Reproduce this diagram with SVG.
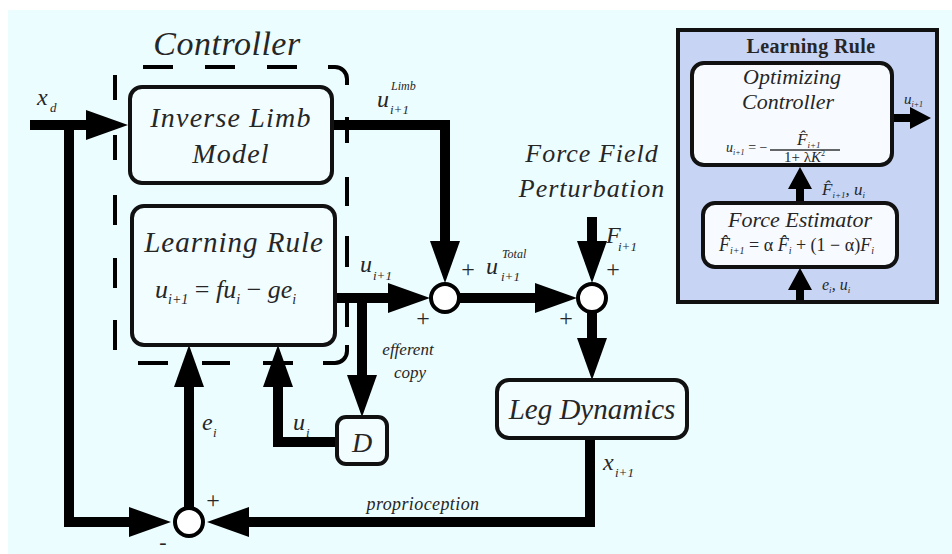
<svg xmlns="http://www.w3.org/2000/svg" width="952" height="554" viewBox="0 0 952 554">
<defs>
<style>
.t{font-family:"Liberation Serif",serif;font-style:italic;fill:#262626}
.n{font-family:"Liberation Serif",serif;fill:#262626}
.box{fill:#f2fdff;stroke:#111;stroke-width:4}
.wbox{fill:#f7fbff;stroke:#111;stroke-width:4}
.ln{fill:none;stroke:#000;stroke-width:10;stroke-linejoin:miter}
.sum{fill:#fff;stroke:#000;stroke-width:4}
.dash{fill:none;stroke:#000;stroke-width:4}
</style>
<marker id="ah" markerUnits="userSpaceOnUse" viewBox="0 0 42 30" markerWidth="42" markerHeight="30" refX="22" refY="15" orient="auto">
<path d="M0,0 L42,15 L0,30 Z" fill="#000"/>
</marker>
</defs>
<rect x="0" y="0" width="952" height="554" fill="#fff"/>
<rect x="8" y="10" width="944" height="544" fill="#ecfdff"/>

<g id="controller">
<text class="t" x="227" y="55" font-size="34" text-anchor="middle" letter-spacing="0.5">Controller</text>
<path class="dash" d="M143,67 H173 M205,67 H235 M267,67 H297 M328,67 H335 A12,12 0 0 1 347,79 V85 M347,117 V143 M347,177 V206 M347,236 V267 M347,294 V327 M347,345 V351 A12,12 0 0 1 335,363 H323 M293,363 H263 M230,363 H202 M168,363 H138 M115,350 V320 M115,288 V258 M115,225 V195 M115,160 V135 M115,100 V75"/>
</g>

<g id="connectors">
<path class="ln" d="M30,125 H108" marker-end="url(#ah)"/>
<path class="ln" d="M69,125 V522 H151" marker-end="url(#ah)"/>
<path class="ln" d="M330,125 H445 V263" marker-end="url(#ah)"/>
<path class="ln" d="M335,298 H410" marker-end="url(#ah)"/>
<path class="ln" d="M460,298 H557" marker-end="url(#ah)"/>
<path class="ln" d="M592,217 V263" marker-end="url(#ah)"/>
<path class="ln" d="M592,313 V360" marker-end="url(#ah)"/>
<path class="ln" d="M590,438 V522 H227" marker-end="url(#ah)"/>
<path class="ln" d="M189,507 V365" marker-end="url(#ah)"/>
<path class="ln" d="M362,298 V397" marker-end="url(#ah)"/>
<path class="ln" d="M337,442 H278 V365" marker-end="url(#ah)"/>
</g>

<g id="inverse-limb-model">
<rect class="box" x="130" y="87" width="202" height="96" rx="12"/>
<text class="t" x="231" y="127" font-size="28" text-anchor="middle" letter-spacing="1.2">Inverse Limb</text>
<text class="t" x="231" y="163" font-size="28" text-anchor="middle" letter-spacing="1.2">Model</text>
</g>

<g id="learning-rule">
<rect class="box" x="132" y="206" width="203" height="139" rx="12"/>
<text class="t" x="234" y="252" font-size="29" text-anchor="middle" letter-spacing="1">Learning Rule</text>
<text class="t" x="155" y="298" font-size="26">u<tspan font-size="14" dy="6">i+1</tspan><tspan dy="-6" font-style="normal"> = </tspan><tspan>fu</tspan><tspan font-size="14" dy="6">i</tspan><tspan dy="-6" font-style="normal"> − </tspan><tspan>ge</tspan><tspan font-size="14" dy="6">i</tspan></text>
</g>

<g id="sum1"><circle class="sum" cx="445" cy="298" r="14"/></g>
<g id="sum2"><circle class="sum" cx="592" cy="298" r="14"/></g>
<g id="sum3"><circle class="sum" cx="189" cy="522" r="14"/></g>

<g id="leg-dynamics">
<rect class="box" x="497" y="380" width="190" height="58" rx="12"/>
<text class="t" x="592" y="419" font-size="29" text-anchor="middle">Leg Dynamics</text>
</g>

<g id="delay">
<rect class="box" x="337" y="417" width="50" height="47" rx="9"/>
<text class="t" x="362" y="452" font-size="28" text-anchor="middle">D</text>
</g>

<g id="force-field">
<text class="t" x="592" y="162" font-size="26" text-anchor="middle" letter-spacing="1">Force Field</text>
<text class="t" x="592" y="197" font-size="26" text-anchor="middle" letter-spacing="1">Perturbation</text>
</g>

<g id="labels">
<text class="t" x="37" y="105" font-size="24">x</text>
<text class="t" x="50" y="112" font-size="13">d</text>

<text class="t" x="377" y="107" font-size="24">u</text>
<text class="t" x="391" y="90" font-size="12">Limb</text>
<text class="t" x="390" y="114" font-size="13">i+1</text>

<text class="t" x="360" y="272" font-size="24">u</text>
<text class="t" x="373" y="280" font-size="13">i+1</text>

<text class="n" x="468" y="277" font-size="24" text-anchor="middle">+</text>
<text class="t" x="486" y="274" font-size="24">u</text>
<text class="t" x="502" y="258" font-size="12">Total</text>
<text class="t" x="501" y="281" font-size="13">i+1</text>
<text class="n" x="423" y="326" font-size="24" text-anchor="middle">+</text>

<text class="t" x="606" y="243" font-size="24">F</text>
<text class="t" x="618" y="251" font-size="13">i+1</text>
<text class="n" x="613" y="277" font-size="24" text-anchor="middle">+</text>
<text class="n" x="566" y="326" font-size="24" text-anchor="middle">+</text>

<text class="t" x="603" y="470" font-size="24">x</text>
<text class="t" x="615" y="477" font-size="13">i+1</text>

<text class="t" x="408" y="355" font-size="17" text-anchor="middle">efferent</text>
<text class="t" x="410" y="378" font-size="17" text-anchor="middle">copy</text>

<text class="t" x="202" y="430" font-size="24">e</text>
<text class="t" x="213" y="437" font-size="13">i</text>
<text class="t" x="293" y="430" font-size="24">u</text>
<text class="t" x="306" y="437" font-size="13">i</text>

<text class="n" x="213" y="508" font-size="24" text-anchor="middle">+</text>
<text class="n" x="163" y="549" font-size="22" text-anchor="middle">-</text>
<text class="t" x="423" y="510" font-size="18" text-anchor="middle" letter-spacing="0.4">proprioception</text>
</g>

<g id="inset">
<rect x="678" y="30" width="259" height="272" fill="#c7d4f4" stroke="#111" stroke-width="4"/>
<text class="n" x="811" y="53" font-size="20" font-weight="bold" text-anchor="middle" letter-spacing="0.4">Learning Rule</text>
</g>

<g id="inset-connectors">
<path d="M892,114 H910 V107 L931,118 L910,129 V122 H892 Z" fill="#000"/>
<path d="M796,203 V189 H788 L800,167 L812,189 H804 V203 Z" fill="#000"/>
<path d="M796,300 V290 H788 L800,268 L812,290 H804 V300 Z" fill="#000"/>
</g>

<g id="optimizing-controller">
<rect class="wbox" x="692" y="63" width="200" height="102" rx="12"/>
<text class="t" x="792" y="84" font-size="22" text-anchor="middle">Optimizing</text>
<text class="t" x="788" y="109" font-size="22" text-anchor="middle">Controller</text>
<text class="t" x="726" y="152" font-size="14">u<tspan font-size="8" dy="3">i+1</tspan><tspan dy="-3" font-style="normal"> = −</tspan></text>
<text class="t" x="797" y="145" font-size="17">F̂<tspan font-size="9" dy="3">i+1</tspan></text>
<line x1="770" y1="150" x2="840" y2="150" stroke="#333" stroke-width="1.3"/>
<text class="n" x="784" y="162" font-size="15">1+ λ<tspan font-style="italic">K</tspan><tspan font-size="8" dy="-6">2</tspan></text>
</g>

<g id="force-estimator">
<rect class="wbox" x="703" y="203" width="194" height="64" rx="12"/>
<text class="t" x="800" y="227" font-size="22" text-anchor="middle">Force Estimator</text>
<text class="t" x="719" y="251" font-size="18">F̂<tspan font-size="10" dy="3">i+1</tspan><tspan dy="-3" font-style="normal"> = α </tspan>F̂<tspan font-size="10" dy="3">i</tspan><tspan dy="-3" font-style="normal"> + (1 − α)</tspan>F<tspan font-size="10" dy="3">i</tspan></text>
</g>

<g id="inset-labels">
<text class="t" x="904" y="104" font-size="15">u<tspan font-size="8" dy="3">i+1</tspan></text>
<text class="t" x="822" y="195" font-size="17">F̂<tspan font-size="9" dy="3">i+1</tspan><tspan dy="-3">, u</tspan><tspan font-size="9" dy="3">i</tspan></text>
<text class="t" x="822" y="290" font-size="16">e<tspan font-size="9" dy="3">i</tspan><tspan dy="-3">, u</tspan><tspan font-size="9" dy="3">i</tspan></text>
</g>
</svg>
